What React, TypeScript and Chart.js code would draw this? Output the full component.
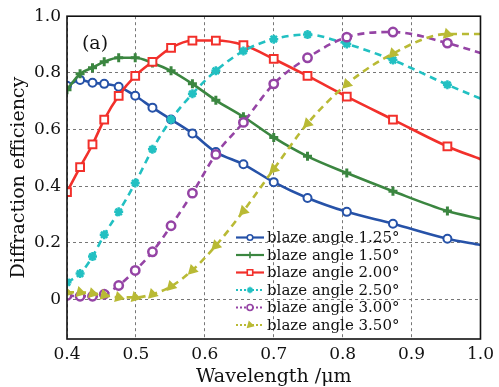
import React, { useEffect, useRef } from "react";
import { Chart, registerables } from "chart.js";
import { drawPoint } from "chart.js/helpers";

Chart.register(...registerables);

const wavelengths = [0.4, 0.419, 0.437, 0.454, 0.475, 0.499, 0.524, 0.551, 0.582, 0.616, 0.656, 0.7, 0.749, 0.806, 0.873, 0.952, 1.0];
const eff125 = [0.754, 0.775, 0.765, 0.761, 0.751, 0.719, 0.677, 0.635, 0.586, 0.52, 0.477, 0.414, 0.358, 0.309, 0.267, 0.214, 0.192];
const eff150 = [0.74, 0.797, 0.818, 0.839, 0.853, 0.853, 0.835, 0.807, 0.761, 0.703, 0.645, 0.572, 0.505, 0.446, 0.382, 0.312, 0.284];
const eff200 = [0.379, 0.467, 0.547, 0.635, 0.719, 0.789, 0.839, 0.888, 0.914, 0.914, 0.898, 0.849, 0.789, 0.716, 0.635, 0.54, 0.495];
const eff250 = [0.06, 0.091, 0.151, 0.228, 0.309, 0.411, 0.53, 0.635, 0.726, 0.807, 0.877, 0.919, 0.935, 0.902, 0.845, 0.758, 0.709];
const eff300 = [0.014, 0.011, 0.011, 0.018, 0.049, 0.102, 0.168, 0.26, 0.375, 0.512, 0.625, 0.761, 0.853, 0.926, 0.944, 0.905, 0.87];
const eff350 = [0.025, 0.025, 0.021, 0.015, 0.007, 0.007, 0.018, 0.046, 0.103, 0.19, 0.312, 0.46, 0.621, 0.76, 0.868, 0.937, 0.937];
const seriesLabels = ["blaze angle 1.25°", "blaze angle 1.50°", "blaze angle 2.00°", "blaze angle 2.50°", "blaze angle 3.00°", "blaze angle 3.50°"];
const yTicks = [0, 0.2, 0.4, 0.6, 0.8, 1.0];
const xTicks = [0.4, 0.5, 0.6, 0.7, 0.8, 0.9, 1.0];
const xTitle = "Wavelength /μm";
const yTitle = "Diffraction efficiency";
const panelLabel = "(a)";

const FONT = "'DejaVu Serif', serif";

type Style = {
  color: string;
  point: string;
  radius: number;
  fill: string;
  dash: number[];
  legendDash: number[];
  pbw: number;
  rot: number;
};

const styles: Style[] = [
  { color: "#2652a8", point: "circle", radius: 4, fill: "#ffffff", dash: [], legendDash: [], pbw: 2, rot: 0 },
  { color: "#3b8640", point: "cross", radius: 4.5, fill: "#3b8640", dash: [], legendDash: [], pbw: 3, rot: 0 },
  { color: "#f2302b", point: "rect", radius: 5.5, fill: "#ffffff", dash: [], legendDash: [], pbw: 2, rot: 0 },
  { color: "#22c0c2", point: "star", radius: 4.5, fill: "#22c0c2", dash: [7, 5], legendDash: [2, 2], pbw: 2.5, rot: 0 },
  { color: "#9544a5", point: "circle", radius: 4.2, fill: "#ffffff", dash: [7, 5], legendDash: [2, 2], pbw: 2.5, rot: 0 },
  { color: "#b9ba35", point: "triangle", radius: 4.5, fill: "#b9ba35", dash: [7, 5], legendDash: [2, 2], pbw: 2, rot: 225 },
];

const seriesValues = [eff125, eff150, eff200, eff250, eff300, eff350];

const CHART_LEFT = 67;
const CHART_RIGHT = 486;
const CHART_TOP = 15;
const CHART_BOTTOM = 339;
const W = 499;
const H = 387;

const overlayPlugin = {
  id: "overlay",
  afterDatasetsDraw(chart: any) {
    const ctx = chart.ctx as CanvasRenderingContext2D;
    const a = chart.chartArea;
    ctx.save();
    // frame
    ctx.strokeStyle = "#111";
    ctx.lineWidth = 1.6;
    ctx.setLineDash([]);
    ctx.strokeRect(a.left, a.top, a.right - a.left, a.bottom - a.top);
    // panel label
    ctx.fillStyle = "#111";
    ctx.font = `19px ${FONT}`;
    ctx.textAlign = "center";
    ctx.textBaseline = "middle";
    ctx.fillText(panelLabel, 95, 44);
    // axis titles
    ctx.font = `19px ${FONT}`;
    ctx.fillText(xTitle, (a.left + a.right) / 2, 377);
    ctx.save();
    ctx.translate(19, (a.top + a.bottom) / 2);
    ctx.rotate(-Math.PI / 2);
    ctx.fillText(yTitle, 0, 0);
    ctx.restore();
    // legend
    const rowY0 = 237.5;
    const rowH = 17.5;
    ctx.font = `15px ${FONT}`;
    ctx.textAlign = "left";
    ctx.textBaseline = "middle";
    seriesLabels.forEach((label, i) => {
      const s = styles[i];
      const y = rowY0 + i * rowH;
      ctx.strokeStyle = s.color;
      ctx.lineWidth = 2.2;
      ctx.setLineDash(s.legendDash);
      ctx.beginPath();
      ctx.moveTo(236, y);
      ctx.lineTo(264, y);
      ctx.stroke();
      ctx.setLineDash([]);
      ctx.fillStyle = s.fill;
      ctx.strokeStyle = s.color;
      ctx.lineWidth = 1.6;
      drawPoint(ctx, { pointStyle: s.point as any, rotation: s.rot, radius: s.radius * 0.7, borderWidth: 1.6 }, 250, y);
      ctx.fillStyle = "#111";
      ctx.fillText(label, 267, y + 1);
    });
    ctx.restore();
  },
};

export default function App() {
  const ref = useRef<HTMLCanvasElement | null>(null);
  useEffect(() => {
    if (!ref.current) return;
    const datasets = seriesValues.map((vals, i) => {
      const s = styles[i];
      return {
        label: seriesLabels[i],
        data: wavelengths.map((x, j) => ({ x, y: vals[j] })),
        borderColor: s.color,
        backgroundColor: s.fill,
        borderWidth: 2.6,
        borderDash: s.dash,
        pointStyle: s.point,
        pointRotation: s.rot,
        pointRadius: wavelengths.map((_, j) => (j === wavelengths.length - 1 ? 0 : s.radius)),
        pointBorderColor: s.color,
        pointBackgroundColor: s.fill,
        pointBorderWidth: s.pbw,
        cubicInterpolationMode: "monotone" as const,
        order: 6 - i,
      };
    });
    const chart = new Chart(ref.current, {
      type: "line",
      data: { datasets },
      plugins: [overlayPlugin],
      options: {
        animation: false,
        responsive: false,
        devicePixelRatio: 1,
        layout: { padding: { top: CHART_TOP, right: W - CHART_RIGHT, left: 0, bottom: 0 } },
        plugins: { legend: { display: false }, tooltip: { enabled: false } },
        scales: {
          x: {
            type: "linear",
            min: 0.4,
            max: 1.0,
            afterBuildTicks: (scale: any) => {
              scale.ticks = xTicks.map((v) => ({ value: v }));
            },
            afterFit: (scale: any) => {
              scale.height = H - CHART_BOTTOM;
            },
            ticks: {
              callback: (v: any) => Number(v).toFixed(1),
              color: "#111",
              font: { family: FONT, size: 17 },
              padding: 5,
              maxRotation: 0,
            },
            grid: { color: "#777", lineWidth: 1, drawTicks: false },
            border: { display: false, dash: [3, 3] },
          },
          y: {
            type: "linear",
            min: -0.14,
            max: 1.0,
            afterBuildTicks: (scale: any) => {
              scale.ticks = yTicks.map((v) => ({ value: v }));
            },
            afterFit: (scale: any) => {
              scale.width = CHART_LEFT;
            },
            ticks: {
              callback: (v: any) => (Number(v) === 0 ? "0" : Number(v).toFixed(1)),
              color: "#111",
              font: { family: FONT, size: 17 },
              padding: 6,
            },
            grid: { color: "#777", lineWidth: 1, drawTicks: false },
            border: { display: false, dash: [3, 3] },
          },
        },
      },
    });
    return () => chart.destroy();
  }, []);
  return (
    <div style={{ position: "fixed", left: 0, top: 0, width: W, height: H, background: "#fff" }}>
      <canvas ref={ref} width={W} height={H} style={{ width: W, height: H, display: "block" }} />
    </div>
  );
}
